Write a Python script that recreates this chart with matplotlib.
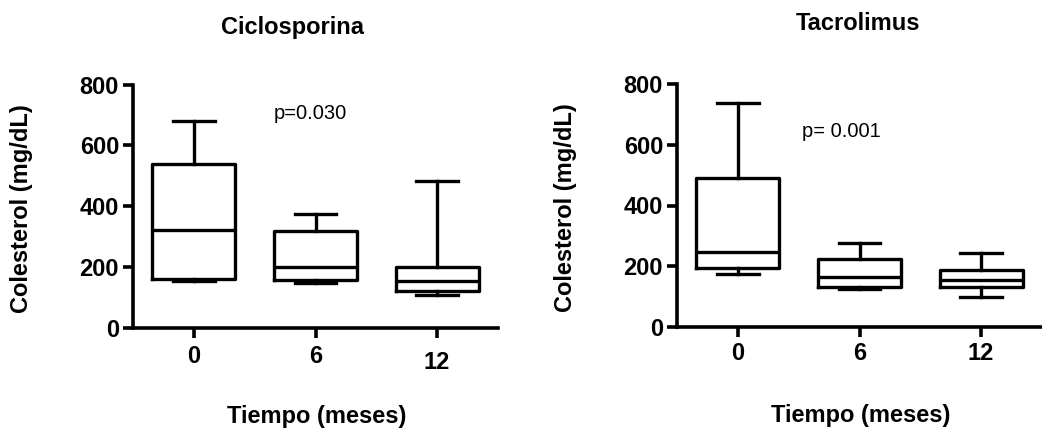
import matplotlib
matplotlib.use("Agg")
import matplotlib.pyplot as plt
import matplotlib.transforms as mtransforms

plt.rcParams['font.family'] = ['Liberation Sans', 'DejaVu Sans']

# Tiempo (meses)
tiempos = ['0', '6', '12']

# Ciclosporina: min, Q1, mediana, Q3, max (mg/dL)
cic_min = [153, 148, 107]
cic_q1 = [161, 158, 123]
cic_med = [322, 202, 156]
cic_q3 = [538, 319, 201]
cic_max = [680, 374, 483]

# Tacrolimus
tac_min = [176, 126, 99]
tac_q1 = [193, 132, 132]
tac_med = [248, 163, 154]
tac_q3 = [490, 225, 189]
tac_max = [737, 277, 242]


def make_stats(mins, q1s, meds, q3s, maxs):
    stats = []
    for lo, a, m, b, hi in zip(mins, q1s, meds, q3s, maxs):
        stats.append({'whislo': lo, 'q1': a, 'med': m, 'q3': b, 'whishi': hi, 'fliers': []})
    return stats


def draw_panel(ax, stats, title, title_pos, ptext, ppos, xpad):
    lw = 2.4
    ax.bxp(stats, positions=range(len(stats)), widths=0.68, showfliers=False,
           capwidths=0.34,
           boxprops=dict(color='black', linewidth=lw),
           whiskerprops=dict(color='black', linewidth=lw),
           capprops=dict(color='black', linewidth=lw),
           medianprops=dict(color='black', linewidth=lw))
    ax.set_xlim(-0.5, 2.5)
    ax.set_ylim(0, 800)
    ax.set_yticks([0, 200, 400, 600, 800])
    ax.set_xticks(range(len(tiempos)))
    ax.set_xticklabels(tiempos)
    for s in ['top', 'right']:
        ax.spines[s].set_visible(False)
    for s in ['left', 'bottom']:
        ax.spines[s].set_linewidth(2.6)
    ax.tick_params(axis='both', width=2.6, length=7, labelsize=17, pad=3)
    ax.tick_params(axis='x', pad=xpad)
    for lab in ax.get_xticklabels() + ax.get_yticklabels():
        lab.set_fontweight('bold')
    ax.set_ylabel('Colesterol (mg/dL)', fontsize=17, fontweight='bold')
    ax.yaxis.set_label_coords(-0.305, 0.49)
    ax.yaxis.label.set_va('center')
    ax.set_xlabel('Tiempo (meses)', fontsize=17, fontweight='bold')
    ax.xaxis.set_label_coords(0.503, -0.365)
    ax.xaxis.label.set_va('center')
    ax.text(title_pos[0], title_pos[1], title, transform=ax.transAxes,
            ha='center', va='center', fontsize=17, fontweight='bold')
    ax.text(ppos[0], ppos[1], ptext, ha='left', va='center', fontsize=14.5)


fig = plt.figure(figsize=(10.42, 4.29), dpi=100)
ax1 = fig.add_axes([133 / 1042, 1 - 328 / 429, 365 / 1042, 243.5 / 429])
ax2 = fig.add_axes([677 / 1042, 1 - 327 / 429, 365 / 1042, 243 / 429])

draw_panel(ax1, make_stats(cic_min, cic_q1, cic_med, cic_q3, cic_max),
           'Ciclosporina', (0.436, 1.236), 'p=0.030', (0.66, 706), 5)
draw_panel(ax2, make_stats(tac_min, tac_q1, tac_med, tac_q3, tac_max),
           'Tacrolimus', (0.496, 1.247), 'p= 0.001', (0.527, 645), 4)

# en el original la etiqueta "12" del primer panel queda algo más baja
lab12 = ax1.get_xticklabels()[2]
lab12.set_transform(lab12.get_transform() +
                    mtransforms.ScaledTranslation(0, -6 / 100, fig.dpi_scale_trans))

fig.savefig('out.png', dpi=100)
